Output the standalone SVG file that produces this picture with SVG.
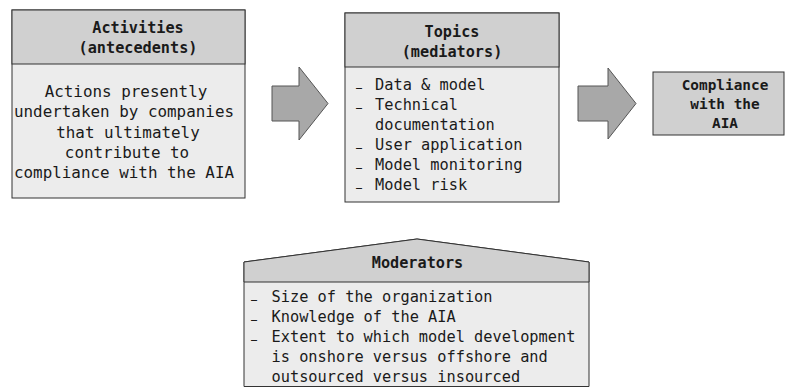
<svg xmlns="http://www.w3.org/2000/svg" width="785" height="387" viewBox="0 0 785 387">
<style>
.hdr{fill:#d0d0d0;stroke:#333;stroke-width:1}
.bdy{fill:#ececec;stroke:#333;stroke-width:1}
.arr{fill:#a8a8a8;stroke:#555;stroke-width:1}
text{font-family:"DejaVu Sans Mono","Liberation Mono",monospace;fill:#1a1a1a}
.h{font-size:15.2px;font-weight:bold;text-anchor:middle}
.b{font-size:15.3px}
.c{text-anchor:middle;font-size:15.9px}
.bul{font-size:10px;font-weight:bold}
</style>
<rect width="785" height="387" fill="#fff"/>
<g id="activities">
<rect class="bdy" x="12" y="10" width="233" height="188"/>
<rect class="hdr" x="12" y="10" width="233" height="54"/>
<text class="h" x="138" y="33">Activities</text>
<text class="h" x="138" y="53">(antecedents)</text>
<text class="c" x="126" y="97">Actions presently</text>
<text class="c" x="124" y="117">undertaken by companies</text>
<text class="c" x="128" y="137.5">that ultimately</text>
<text class="c" x="127" y="157.5">contribute to</text>
<text class="c" x="124" y="177.5">compliance with the AIA</text>
</g>
<g id="topics">
<rect class="bdy" x="345" y="13" width="214" height="189"/>
<rect class="hdr" x="345" y="13" width="214" height="54"/>
<text class="h" x="452" y="37">Topics</text>
<text class="h" x="452" y="57">(mediators)</text>
<g class="b">
<text class="bul" x="356" y="86">_</text>
<text x="375" y="90">Data &amp; model</text>
<text class="bul" x="356" y="106">_</text>
<text x="375" y="110">Technical</text>
<text x="375" y="130">documentation</text>
<text class="bul" x="356" y="146">_</text>
<text x="375" y="150">User application</text>
<text class="bul" x="356" y="166">_</text>
<text x="375" y="170">Model monitoring</text>
<text class="bul" x="356" y="186">_</text>
<text x="375" y="190">Model risk</text>
</g>
</g>
<g id="compliance">
<rect class="hdr" x="653" y="72" width="131" height="63"/>
<text class="h" style="font-size:14.4px" x="725" y="90">Compliance</text>
<text class="h" style="font-size:14.4px" x="725" y="109">with the</text>
<text class="h" style="font-size:14.4px" x="725" y="128">AIA</text>
</g>
<g id="moderators">
<polygon class="bdy" points="244,262 417,239 589,262 589,386.5 244,386.5"/>
<polygon class="hdr" points="244,262 417,239 589,262 589,282 244,282"/>
<text class="h" x="417.5" y="268">Moderators</text>
<g class="b">
<text class="bul" x="251" y="298">_</text>
<text x="271.5" y="302">Size of the organization</text>
<text class="bul" x="251" y="318">_</text>
<text x="271.5" y="322">Knowledge of the AIA</text>
<text class="bul" x="251" y="338">_</text>
<text x="271.5" y="342">Extent to which model development</text>
<text x="271.5" y="362">is onshore versus offshore and</text>
<text x="271.5" y="382">outsourced versus insourced</text>
</g>
</g>
<g id="connectors">
<polygon class="arr" points="272,86 299,86 299,67 328,103.5 299,140 299,121 272,121"/>
<polygon class="arr" points="578,86 608,86 608,68 636,103.5 608,139 608,121 578,121"/>
</g>
</svg>
